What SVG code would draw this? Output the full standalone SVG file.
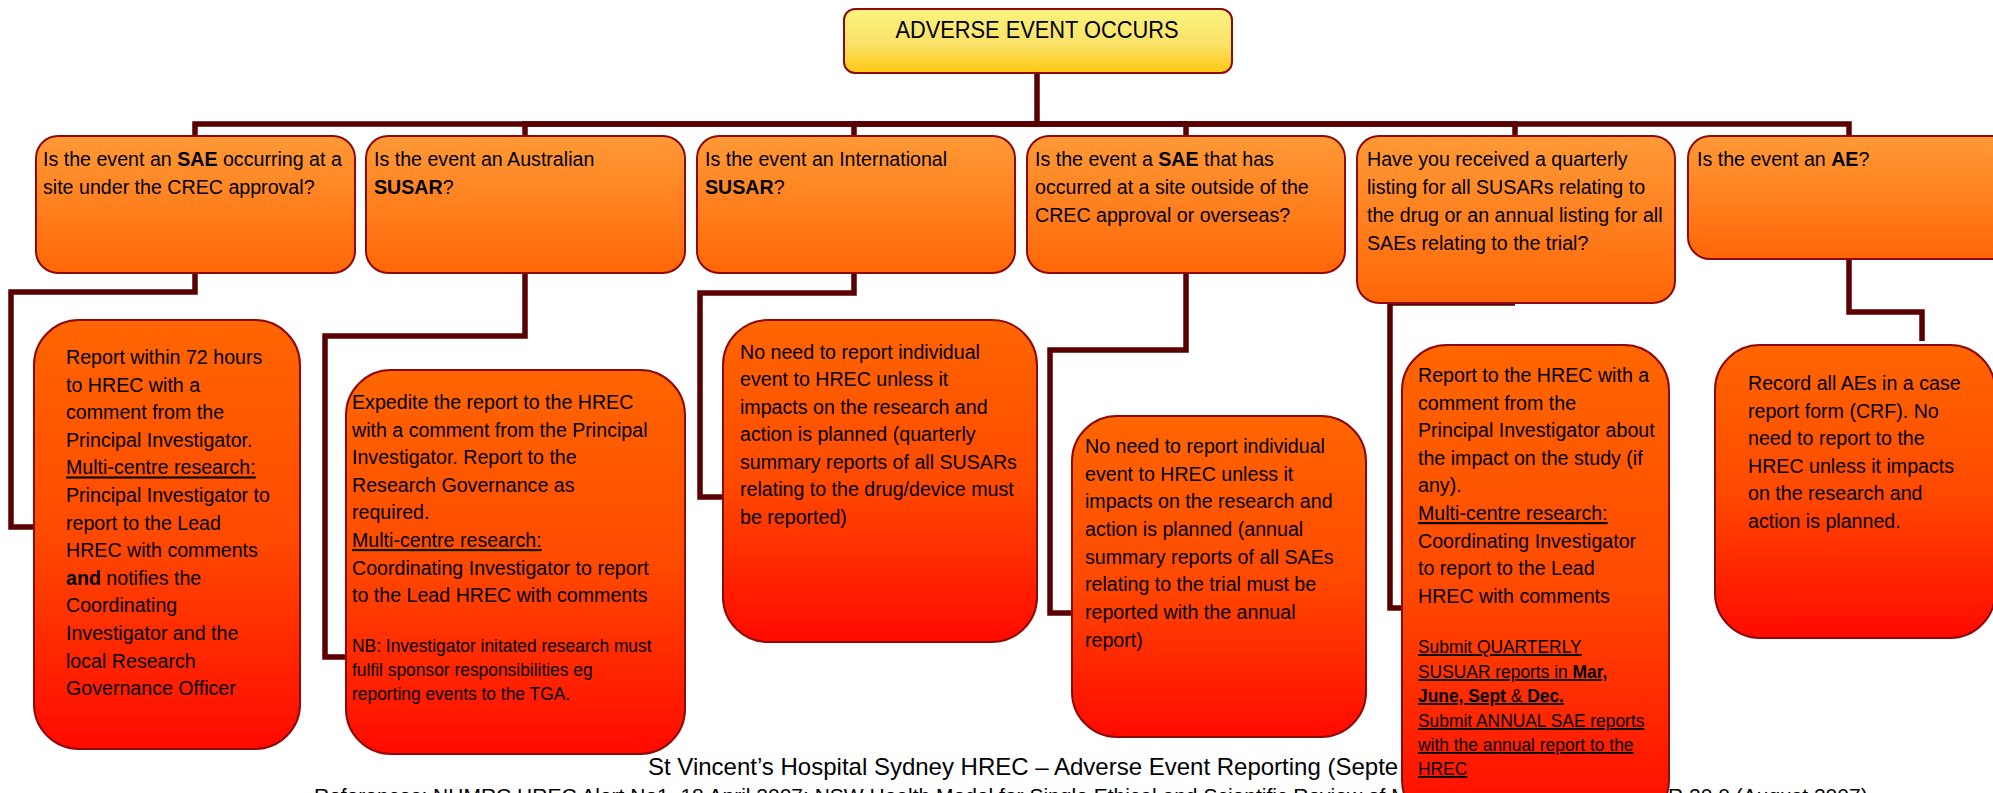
<svg xmlns="http://www.w3.org/2000/svg" width="1993" height="793" viewBox="0 0 1993 793">
<defs>
<linearGradient id="gTitle" x1="0" y1="0" x2="0" y2="1"><stop offset="0" stop-color="#F9F37E"/><stop offset="0.55" stop-color="#FBE268"/><stop offset="1" stop-color="#FFC812"/></linearGradient>
<linearGradient id="gQ" x1="0" y1="0" x2="0" y2="1"><stop offset="0" stop-color="#FF9A36"/><stop offset="1" stop-color="#FF6608"/></linearGradient>
<linearGradient id="gA" x1="0" y1="0" x2="0" y2="1"><stop offset="0" stop-color="#FF6600"/><stop offset="0.5" stop-color="#FF4A00"/><stop offset="1" stop-color="#FF0A00"/></linearGradient>
<style>
.box{stroke:#8E0A0A;stroke-width:2}
.q{fill:url(#gQ)}
.a{fill:url(#gA)}
.t{font-family:"Liberation Sans",Arial,sans-serif;font-size:21px;fill:#000}
.title{font-family:"Liberation Sans",Arial,sans-serif;font-size:24.5px;fill:#000}
.s{font-size:18.6px}
.b{font-weight:bold}
.u{text-decoration:underline}
.conn path{fill:none;stroke:#5A0000;stroke-width:5.5;stroke-linejoin:miter;stroke-linecap:butt}
.foot{font-family:"Liberation Sans",Arial,sans-serif;fill:#000}
</style>
</defs>
<rect width="1993" height="793" fill="#FFFFFF"/>

<g id="footer">
<text class="foot" x="648" y="775" font-size="24">St Vincent’s Hospital Sydney HREC – Adverse Event Reporting (Septe</text>
<text class="foot" x="314" y="803" font-size="21">References: NHMRC HREC Alert No1, 18 April 2007; NSW Health Model for Single Ethical and Scientific Review of M</text>
<text class="foot" x="1668" y="803" font-size="21">R 20.0 (August 2007)</text>
</g>

<g id="connectors" class="conn">
<path d="M1037,73 V124 H195 V136"/>
<path d="M1037,124 H525 V136"/>
<path d="M1037,124 H854 V136"/>
<path d="M1037,124 H1186 V136"/>
<path d="M1037,124 H1515 V136"/>
<path d="M1037,124 H1849 V136"/>
<path d="M195,273 V292 H11 V527 H34"/>
<path d="M525,273 V336 H325 V657 H346"/>
<path d="M854,273 V293 H700 V497 H723"/>
<path d="M1186,273 V350 H1050 V613 H1072"/>
<path d="M1515,303 H1390 V608 H1402"/>
<path d="M1849,259 V312 H1922 V341"/>
</g>

<g id="n-title">
<rect class="box" x="844" y="9" width="388" height="64" rx="11" fill="url(#gTitle)"/>
<text class="title" text-anchor="middle" transform="translate(1037,38) scale(0.89,1)">ADVERSE EVENT OCCURS</text>
</g>

<g id="n-q1">
<rect class="box q" x="36" y="136" width="319" height="137" rx="22"/>
<text class="t" transform="translate(43,166) scale(0.935,1)"><tspan x="0" y="0">Is the event an <tspan class="b">SAE</tspan> occurring at a</tspan><tspan x="0" y="28">site under the CREC approval?</tspan></text>
</g>

<g id="n-q2">
<rect class="box q" x="366" y="136" width="319" height="137" rx="22"/>
<text class="t" transform="translate(374,166) scale(0.935,1)"><tspan x="0" y="0">Is the event an Australian</tspan><tspan x="0" y="28"><tspan class="b">SUSAR</tspan>?</tspan></text>
</g>

<g id="n-q3">
<rect class="box q" x="697" y="136" width="318" height="137" rx="22"/>
<text class="t" transform="translate(705,166) scale(0.935,1)"><tspan x="0" y="0">Is the event an International</tspan><tspan x="0" y="28"><tspan class="b">SUSAR</tspan>?</tspan></text>
</g>

<g id="n-q4">
<rect class="box q" x="1027" y="136" width="318" height="137" rx="22"/>
<text class="t" transform="translate(1035,166) scale(0.935,1)"><tspan x="0" y="0">Is the event a <tspan class="b">SAE</tspan> that has</tspan><tspan x="0" y="28">occurred at a site outside of the</tspan><tspan x="0" y="56">CREC approval or overseas?</tspan></text>
</g>

<g id="n-q5">
<rect class="box q" x="1357" y="136" width="318" height="167" rx="22"/>
<text class="t" transform="translate(1367,166) scale(0.935,1)"><tspan x="0" y="0">Have you received a quarterly</tspan><tspan x="0" y="28">listing for all SUSARs relating to</tspan><tspan x="0" y="56">the drug or an annual listing for all</tspan><tspan x="0" y="84">SAEs relating to the trial?</tspan></text>
</g>

<g id="n-q6">
<rect class="box q" x="1688" y="136" width="330" height="123" rx="22"/>
<text class="t" transform="translate(1697,166) scale(0.935,1)"><tspan x="0" y="0">Is the event an <tspan class="b">AE</tspan>?</tspan></text>
</g>

<g id="n-a1">
<rect class="box a" x="34" y="320" width="266" height="429" rx="45"/>
<text class="t" transform="translate(66,364) scale(0.935,1)"><tspan x="0" y="0">Report within 72 hours</tspan><tspan x="0" y="27.6">to HREC with a</tspan><tspan x="0" y="55.2">comment from the</tspan><tspan x="0" y="82.8">Principal Investigator.</tspan><tspan x="0" y="110.4" class="u">Multi-centre research:</tspan><tspan x="0" y="138">Principal Investigator to</tspan><tspan x="0" y="165.6">report to the Lead</tspan><tspan x="0" y="193.2">HREC with comments</tspan><tspan x="0" y="220.8"><tspan class="b">and</tspan> notifies the</tspan><tspan x="0" y="248.4">Coordinating</tspan><tspan x="0" y="276">Investigator and the</tspan><tspan x="0" y="303.6">local Research</tspan><tspan x="0" y="331.2">Governance Officer</tspan></text>
</g>

<g id="n-a2">
<rect class="box a" x="346" y="370" width="339" height="384" rx="45"/>
<text class="t" transform="translate(352,409) scale(0.935,1)"><tspan x="0" y="0">Expedite the report to the HREC</tspan><tspan x="0" y="27.6">with a comment from the Principal</tspan><tspan x="0" y="55.2">Investigator. Report to the</tspan><tspan x="0" y="82.8">Research Governance as</tspan><tspan x="0" y="110.4">required.</tspan><tspan x="0" y="138" class="u">Multi-centre research:</tspan><tspan x="0" y="165.6">Coordinating Investigator to report</tspan><tspan x="0" y="193.2">to the Lead HREC with comments</tspan><tspan x="0" y="243" class="s">NB: Investigator initated research must</tspan><tspan x="0" y="267" class="s">fulfil sponsor responsibilities eg</tspan><tspan x="0" y="291" class="s">reporting events to the TGA.</tspan></text>
</g>

<g id="n-a3">
<rect class="box a" x="723" y="320" width="314" height="322" rx="45"/>
<text class="t" transform="translate(740,359) scale(0.935,1)"><tspan x="0" y="0">No need to report individual</tspan><tspan x="0" y="27.5">event to HREC unless it</tspan><tspan x="0" y="55">impacts on the research and</tspan><tspan x="0" y="82.5">action is planned (quarterly</tspan><tspan x="0" y="110">summary reports of all SUSARs</tspan><tspan x="0" y="137.5">relating to the drug/device must</tspan><tspan x="0" y="165">be reported)</tspan></text>
</g>

<g id="n-a4">
<rect class="box a" x="1072" y="416" width="294" height="321" rx="45"/>
<text class="t" transform="translate(1085,453) scale(0.935,1)"><tspan x="0" y="0">No need to report individual</tspan><tspan x="0" y="27.7">event to HREC unless it</tspan><tspan x="0" y="55.4">impacts on the research and</tspan><tspan x="0" y="83.1">action is planned (annual</tspan><tspan x="0" y="110.8">summary reports of all SAEs</tspan><tspan x="0" y="138.5">relating to the trial must be</tspan><tspan x="0" y="166.2">reported with the annual</tspan><tspan x="0" y="193.9">report)</tspan></text>
</g>

<g id="n-a5">
<rect class="box a" x="1402" y="345" width="267" height="480" rx="45"/>
<text class="t" transform="translate(1418,382) scale(0.935,1)"><tspan x="0" y="0">Report to the HREC with a</tspan><tspan x="0" y="27.6">comment from the</tspan><tspan x="0" y="55.2">Principal Investigator about</tspan><tspan x="0" y="82.8">the impact on the study (if</tspan><tspan x="0" y="110.4">any).</tspan><tspan x="0" y="138" class="u">Multi-centre research:</tspan><tspan x="0" y="165.6">Coordinating Investigator</tspan><tspan x="0" y="193.2">to report to the Lead</tspan><tspan x="0" y="220.8">HREC with comments</tspan><tspan x="0" y="271" class="s u">Submit QUARTERLY</tspan><tspan x="0" y="296" class="s u">SUSUAR reports in <tspan class="b">Mar,</tspan></tspan><tspan x="0" y="320" class="s u"><tspan class="b">June, Sept</tspan> &amp; <tspan class="b">Dec.</tspan></tspan><tspan x="0" y="345" class="s u">Submit ANNUAL SAE reports</tspan><tspan x="0" y="369" class="s u">with the annual report to the</tspan><tspan x="0" y="393" class="s u">HREC</tspan></text>
</g>

<g id="n-a6">
<rect class="box a" x="1715" y="345" width="280" height="293" rx="45"/>
<text class="t" transform="translate(1748,390) scale(0.935,1)"><tspan x="0" y="0">Record all AEs in a case</tspan><tspan x="0" y="27.6">report form (CRF). No</tspan><tspan x="0" y="55.2">need to report to the</tspan><tspan x="0" y="82.8">HREC unless it impacts</tspan><tspan x="0" y="110.4">on the research and</tspan><tspan x="0" y="138">action is planned.</tspan></text>
</g>
</svg>
